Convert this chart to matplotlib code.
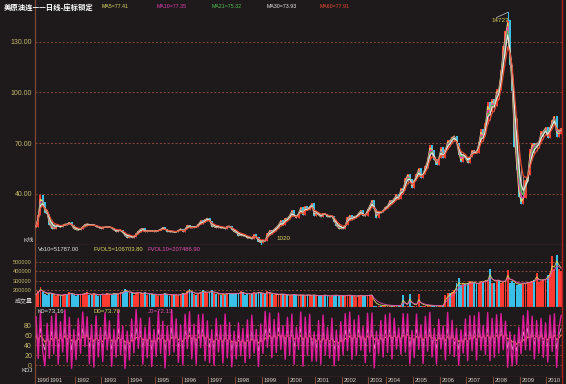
import numpy as np
import pandas as pd
import matplotlib
matplotlib.use('Agg')
import matplotlib.pyplot as plt

plt.rcParams['font.family'] = ['Liberation Sans', 'Noto Sans CJK SC', 'DejaVu Sans']

# ---------------------------------- data -------------------------------------
# monthly bars, Jul 1990 - Jul 2010 (the feed has a hole in mid 2003)
months = pd.period_range('1990-07', '2010-07', freq='M')
months = months[~((months.year == 2003) & (months.month >= 5) & (months.month <= 8))]

closes = [
    20.7, 27.3, 39.5, 35.2, 29.0, 28.4,                                      # 1990
    21.5, 19.4, 19.6, 20.8, 21.3, 20.3, 21.7, 22.3, 22.2, 23.4, 21.5, 19.1,  # 1991
    18.9, 18.7, 19.4, 20.9, 22.1, 22.4, 21.8, 21.5, 21.8, 20.6, 20.3, 19.5,  # 1992
    20.3, 20.4, 20.4, 20.5, 19.9, 18.5, 17.8, 18.3, 18.6, 16.9, 15.4, 14.2,  # 1993
    15.2, 14.3, 14.7, 16.7, 18.3, 19.5, 19.7, 17.4, 18.4, 18.2, 18.1, 17.8,  # 1994
    18.4, 18.5, 19.2, 20.4, 19.1, 17.8, 17.6, 17.8, 17.5, 17.6, 18.6, 19.6,  # 1995
    17.7, 19.5, 21.5, 21.2, 19.8, 20.9, 20.4, 22.3, 24.4, 23.4, 25.0, 25.9,  # 1996
    24.2, 20.4, 20.7, 20.0, 20.9, 19.8, 20.1, 19.6, 21.2, 21.0, 19.0, 17.6,  # 1997
    17.2, 15.4, 15.6, 15.4, 15.1, 13.8, 14.1, 13.4, 16.1, 14.4, 11.6, 11.2,  # 1998
    12.8, 12.3, 16.8, 18.7, 17.8, 19.3, 20.5, 22.1, 24.5, 21.8, 26.1, 25.6,  # 1999
    27.6, 30.4, 26.9, 25.7, 29.0, 32.5, 27.4, 33.1, 30.8, 32.7, 34.4, 26.8,  # 2000
    28.7, 27.4, 26.3, 28.5, 28.4, 26.3, 26.4, 27.2, 23.4, 21.2, 19.4, 19.8,  # 2001
    19.5, 21.7, 26.3, 27.3, 25.3, 26.9, 27.0, 28.9, 30.5, 27.2, 26.9, 31.2,  # 2002
    33.5, 36.6, 31.0, 25.8, 29.2, 29.1, 30.4, 32.5,                          # 2003
    33.1, 36.2, 35.8, 37.4, 39.9, 37.1, 43.8, 42.1, 49.6, 51.8, 49.1, 43.5,  # 2004
    48.2, 52.0, 55.4, 49.7, 51.9, 56.5, 60.6, 68.9, 66.2, 59.8, 57.3, 61.0,  # 2005
    67.9, 61.4, 66.6, 71.9, 71.3, 73.9, 74.4, 70.3, 62.9, 58.7, 62.9, 61.1,  # 2006
    58.1, 62.0, 65.9, 65.7, 64.0, 70.7, 78.2, 74.0, 81.7, 94.5, 88.7, 96.0,  # 2007
    91.8, 101.8, 101.6, 113.5, 127.4, 136.0, 143.0, 116.0, 100.6, 67.8, 54.4, 38.0,  # 2008
    34.0, 37.5, 48.0, 51.1, 66.3, 69.9, 69.5, 69.9, 70.6, 77.0, 77.3, 79.4,  # 2009
    72.9, 79.7, 83.8, 86.2, 73.9, 75.6, 78.9,                                # 2010
]

volumes_k = [
    150, 190, 230, 175, 160, 150,
    170, 160, 145, 140, 150, 135, 145, 160, 150, 175, 165, 150,
    140, 155, 150, 160, 170, 175, 150, 145, 165, 150, 140, 155,
    160, 150, 165, 155, 150, 170, 160, 155, 180, 175, 215, 190,
    165, 175, 150, 170, 180, 165, 155, 175, 150, 160, 155, 145,
    150, 140, 160, 155, 165, 150, 140, 155, 145, 150, 140, 160,
    170, 155, 190, 215, 175, 160, 150, 165, 180, 200, 175, 170,
    180, 195, 170, 160, 155, 150, 160, 150, 165, 170, 155, 160,
    165, 160, 185, 175, 150, 165, 150, 160, 175, 165, 180, 170,
    160, 155, 185, 170, 160, 150, 155, 145, 160, 155, 150, 145,
    140, 150, 155, 145, 140, 150, 145, 140, 150, 145, 140, 150,
    140, 135, 145, 140, 150, 135, 130, 140, 150, 145, 140, 135,
    140, 135, 150, 145, 140, 135, 130, 140, 145, 135, 140, 145,
    145, 150, 32, 30, 30, 31, 30, 30,
    30, 31, 30, 32, 30, 31, 30, 150, 33, 30, 160, 31,
    30, 32, 155, 30, 31, 30, 30, 32, 30, 31, 30, 30,
    32, 30, 150, 165, 170, 180, 200, 275, 330, 250, 280, 260,
    270, 300, 280, 290, 260, 270, 300, 290, 310, 300, 430, 280,
    280, 300, 310, 270, 290, 300, 415, 280, 300, 270, 250, 260,
    260, 280, 270, 290, 280, 300, 310, 380, 290, 300, 310, 320,
    360, 380, 560, 430, 580, 430, 400,
]

k_vals = [
    70, 38, 74, 45, 30, 62,
    35, 68, 40, 72, 33, 65, 42, 76, 36, 70, 30, 58,
    34, 66, 40, 73, 48, 72, 35, 64, 30, 69, 38, 60,
    33, 71, 44, 67, 31, 58, 36, 73, 40, 62, 28, 55,
    32, 64, 39, 74, 46, 70, 34, 61, 37, 68, 30, 57,
    36, 72, 41, 66, 29, 60, 38, 74, 43, 69, 35, 63,
    31, 70, 45, 75, 39, 65, 33, 71, 47, 74, 38, 68,
    35, 59, 30, 66, 41, 62, 32, 70, 37, 64, 29, 55,
    33, 61, 36, 57, 30, 63, 34, 68, 40, 58, 28, 60,
    38, 72, 46, 74, 40, 69, 44, 75, 48, 66, 39, 71,
    42, 74, 35, 62, 45, 75, 33, 70, 41, 73, 37, 58,
    34, 65, 31, 69, 39, 60, 36, 67, 30, 56, 32, 62,
    37, 70, 43, 74, 38, 68, 41, 72, 46, 64, 35, 73,
    44, 75, 32, 58, 40, 66, 38, 71,
    43, 74, 39, 70, 47, 63, 42, 74, 45, 75, 36, 60,
    38, 72, 46, 65, 34, 70, 44, 75, 41, 62, 33, 67,
    45, 63, 36, 73, 42, 68, 40, 61, 31, 57, 39, 66,
    34, 69, 43, 71, 37, 74, 46, 65, 42, 75, 38, 70,
    40, 73, 44, 75, 48, 70, 33, 58, 30, 52, 28, 56,
    36, 67, 42, 74, 45, 72, 39, 68, 43, 70, 40, 66,
    35, 71, 44, 74, 32, 60, 73,
]

hi_month, hi_price = '2008-07', 147.27
lo_month, lo_price = '1998-12', 10.20

price_ticks = [40, 70, 100, 130]
vol_ticks = [200000, 300000, 400000, 500000]
kdj_ticks = [0, 20, 40, 60, 80]

assert len(closes) == len(months) == len(volumes_k) == len(k_vals)

# ------------------------------- derived -------------------------------------
x = np.arange(len(months))
closes = np.array(closes)
opens = np.r_[closes[0], closes[:-1]]
up = closes >= opens
vol = np.array(volumes_k) * 1000.0
s = pd.Series(closes)
ma_spans = [1.5, 2.0, 2.6, 3.2, 5.0]
ma_cols = ['#e0dc68', '#e040b0', '#50c050', '#e6e6e6', '#e84a30']
mas = [s.ewm(span=sp).mean().values for sp in ma_spans]
band_lo = np.min(np.vstack([opens, closes] + mas), axis=0)
band_hi = np.max(np.vstack([opens, closes] + mas), axis=0)

K = np.array(k_vals, float)
D = np.empty_like(K)
d = 50.0
for i, k in enumerate(K):
    d = (2 * d + k) / 3
    D[i] = d
J = 3 * K - 2 * D

hi_i = list(months.astype(str)).index(hi_month)
lo_i = list(months.astype(str)).index(lo_month)

# -------------------------------- figure -------------------------------------
BG = '#1e1a1b'
SPINE = '#7e4634'
GRID = '#8c4a38'
TICK = '#c4b86a'
UPC, DNC = '#ff3a30', '#38c0e8'
W, H = 566, 384

fig = plt.figure(figsize=(W / 100, H / 100), dpi=100, facecolor=BG)


def box(top, bottom, left=34.5, right=562):
    return [left / W, 1 - bottom / H, (right - left) / W, (bottom - top) / H]


def idx(px):
    return (px - 36) / 2.225


ax_p = fig.add_axes(box(0, 245))
ax_v = fig.add_axes(box(245, 307))
ax_k = fig.add_axes(box(307, 377))
ax_d = fig.add_axes(box(377, 384))

for ax in (ax_p, ax_v, ax_k, ax_d):
    ax.set_facecolor(BG)
    ax.set_xlim(idx(34.5), idx(562))
    ax.set_xticks([])
    ax.spines['top'].set_visible(False)
    ax.spines['left'].set_color(SPINE)
    ax.spines['bottom'].set_color(SPINE)
    ax.spines['right'].set_color('#b02020')
    ax.spines['left'].set_linewidth(0.9)
    ax.spines['bottom'].set_linewidth(0.9)
    ax.spines['right'].set_linewidth(1.0)

# price panel
ax_p.set_ylim(9.87, 154.6)
for t in price_ticks:
    ax_p.axhline(t, color=GRID, lw=0.7, ls=(0, (2, 2)), zorder=0.5)
ax_p.set_yticks(price_ticks)
ax_p.set_yticklabels(['%.2f' % t for t in price_ticks])
ax_p.tick_params(axis='y', length=0, pad=1.8, labelsize=5, labelcolor=TICK)

ax_p.vlines(x, band_lo, band_hi, color='#d0a8a8', lw=0.5, zorder=1.5)
ax_p.bar(x, closes - opens, bottom=opens, width=0.9,
         color=np.where(up, UPC, DNC), edgecolor='none', zorder=2)
for m, c in zip(mas, ma_cols):
    ax_p.plot(x, m, color=c, lw=0.85, zorder=3)
ax_p.plot([hi_i, hi_i], [closes[hi_i], hi_price], color=DNC, lw=0.8, zorder=3)
ax_p.plot([lo_i, lo_i], [closes[lo_i], lo_price], color=DNC, lw=0.8, zorder=3)
ax_p.plot([hi_i - 5, hi_i], [hi_price - 3, hi_price], color='#c8ccd4', lw=0.5, zorder=4)
ax_p.text(hi_i - 7.5, hi_price - 5, '14727', fontsize=4.5, color='#e0d060',
          ha='left', va='center', zorder=5)
ax_p.text(lo_i + 7, lo_price + 3.8, '1020', fontsize=4.5, color='#e0d060',
          ha='left', va='center', zorder=5)

# volume panel
ax_v.set_ylim(18200, 682500)
for t in vol_ticks:
    ax_v.axhline(t, color=GRID, lw=0.7, ls=(0, (2, 2)), zorder=0.5)
ax_v.set_yticks(vol_ticks)
ax_v.set_yticklabels([str(t) for t in vol_ticks])
ax_v.tick_params(axis='y', length=0, pad=2.2, labelsize=4.1, labelcolor=TICK)
ax_v.bar(x, vol, width=0.85, color=np.where(up, UPC, DNC), edgecolor='none', zorder=2)
vs = pd.Series(vol)
ax_v.plot(x, vs.ewm(span=3).mean(), color='#d8d860', lw=0.6, zorder=3)
ax_v.plot(x, vs.ewm(span=6).mean(), color='#e050b0', lw=0.6, zorder=3)

# KDJ panel
ax_k.set_ylim(-24, 116)
for t in kdj_ticks:
    ax_k.axhline(t, color=GRID, lw=0.7, ls=(0, (2, 2)), zorder=0.5)
ax_k.set_yticks(kdj_ticks)
ax_k.set_yticklabels([str(t) for t in kdj_ticks])
ax_k.tick_params(axis='y', length=0, pad=1.8, labelsize=5, labelcolor=TICK)
ax_k.plot(x, K, color='#f2c0e0', lw=0.55, zorder=2)
ax_k.plot(x, D, color='#e8905a', lw=0.7, zorder=3)
ax_k.plot(x, J, color='#e01c9c', lw=1.0, zorder=4)

# date strip
ax_d.set_ylim(0, 1)
ax_d.set_yticks([])
ax_d.spines['bottom'].set_visible(False)
years = sorted(set(months.year))
for yr in years:
    i0 = int(np.argmax(months.year == yr))
    ax_d.axvline(i0 - 0.6, color=SPINE, lw=0.8)
    ax_d.text(i0 + 0.2, 0.45, str(yr), fontsize=4.2, color='#d8d0c8',
              ha='left', va='center',
              bbox=dict(boxstyle='square,pad=0.1', fc=BG, ec='none'))

# panel captions on the left
fig.text(33.5 / W, 1 - 240 / H, 'K线', fontsize=4.5, color='#d8d8d8', ha='right', va='center')
fig.text(32.5 / W, 1 - 300 / H, '成交量', fontsize=4.3, color='#d8d8d8', ha='right', va='center')
fig.text(33.0 / W, 1 - 371 / H, 'KDJ', fontsize=4.3, color='#d8d8d8', ha='right', va='center')

# title rows
fig.text(4 / W, 1 - 7 / H, '美原油连——日线-座标锁定', fontsize=5.3, color='white',
         fontweight='bold', family=['Noto Sans CJK SC', 'DejaVu Sans'], va='center')
ma_names = ['MA5=77.41', 'MA10=77.35', 'MA21=75.32', 'MA30=73.93', 'MA60=77.91']
ma_x = [102, 157, 212, 267, 320]
for name, px, c in zip(ma_names, ma_x, ma_cols):
    fig.text(px / W, 1 - 6.5 / H, name, fontsize=3.8, color=c, va='center')

vol_names = ['Vo10=51787.00', 'FVOL5=106703.80', 'FVOL10=207486.90']
for name, px, c in zip(vol_names, [38, 93, 147], ['#e0e0e0', '#d8d860', '#e050b0']):
    fig.text(px / W, 1 - 249.5 / H, name, fontsize=4.2, color=c, va='center')

kdj_names = ['K0=73.16', 'D0=73.70', 'J0=72.13']
for name, px, c in zip(kdj_names, [38, 93, 148], ['#e0e0e0', '#d8d860', '#e050b0']):
    fig.text(px / W, 1 - 311.5 / H, name, fontsize=4.4, color=c, va='center')

fig.savefig('out.png', dpi=100, facecolor=BG)
